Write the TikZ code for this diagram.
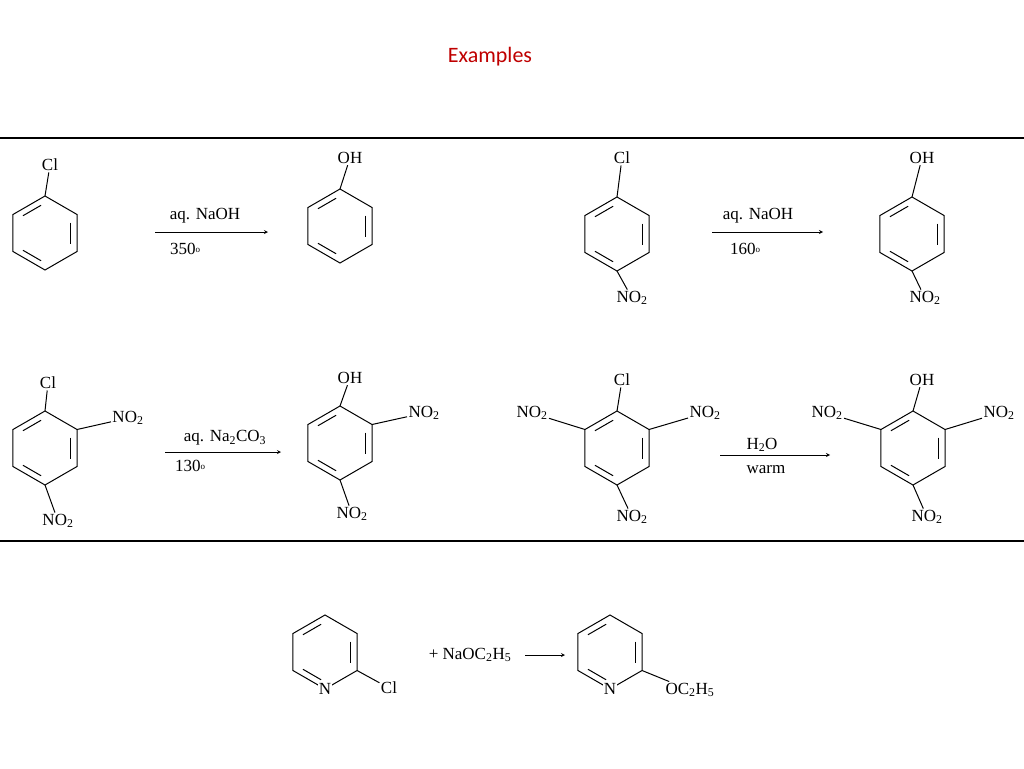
\documentclass[tikz,border=0pt]{standalone}
\usepackage{fontspec}
\setmainfont{Liberation Serif}
\newfontfamily\titlefont{Carlito}
\usetikzlibrary{calc}

\def\ux{1pt}
\def\uy{-1pt}

% ring of six with three inner bonds
\newcommand\ring[3]{%
  \coordinate (#1) at (#2,#3);
  \foreach \i in {0,...,5}{
    \coordinate (#1-\i) at ($(#1)+(-90+60*\i:37)$);
    \coordinate (#1i\i) at ($(#1)+(-90+60*\i:30)$);
  }
  \draw (#1-0) -- (#1-1) -- (#1-2) -- (#1-3) -- (#1-4) -- (#1-5) -- cycle;
  \foreach \a/\b in {1/2,3/4,5/0}
    \draw ($(#1i\a)!0.15!(#1i\b)$) -- ($(#1i\b)!0.15!(#1i\a)$);
}
\newcommand\degr[1]{#1\raisebox{2pt}{\small o}}

\begin{document}
\begin{tikzpicture}[x=\ux,y=\uy,line width=1pt,
    lbl/.style={inner sep=1pt,font=\fontsize{17}{20}\selectfont},
    rule/.style={line width=2.5pt},
    rxn/.style={-stealth,line width=0.8pt}]
  \useasboundingbox (0,0) rectangle (1024,768);
  \node[text=red!75!black,font=\titlefont\fontsize{22}{26}\selectfont] (title) at (490,57) {Examples};
  \draw[rule] (0,138) -- (1024,138);
  \draw[rule] (0,541) -- (1024,541);

  % row one
  \ring{ra}{45}{233}
  \node[lbl] (cla) at (50,165) {Cl};
  \draw (ra-0) -- (cla);
  \coordinate (aa) at (155,232); \coordinate (ab) at (268,232);
  \draw[rxn] (aa) -- (ab);
  \node[lbl] (ta) at (205,216) {aq. NaOH};
  \node[lbl] (tb) at (185,249) {\degr{350}};
  \ring{rb}{340}{226}
  \node[lbl] (ohb) at (350,158) {OH};
  \draw (rb-0) -- (ohb);

  \ring{rc}{617}{234}
  \node[lbl] (clc) at (622,158) {Cl};
  \node[lbl] (nc) at (632,298) {NO\textsubscript{2}};
  \draw (rc-0) -- (clc); \draw (rc-3) -- (nc);
  \coordinate (ba) at (712,232); \coordinate (bb) at (823,232);
  \draw[rxn] (ba) -- (bb);
  \node[lbl] (tc) at (758,216) {aq. NaOH};
  \node[lbl] (td) at (745,249) {\degr{160}};
  \ring{rd}{912}{234}
  \node[lbl] (ohd) at (922,158) {OH};
  \node[lbl] (nd) at (925,298) {NO\textsubscript{2}};
  \draw (rd-0) -- (ohd); \draw (rd-3) -- (nd);

  % row two
  \ring{re}{45}{448}
  \node[lbl] (cle) at (48,383) {Cl};
  \node[lbl] (ne) at (128,418) {NO\textsubscript{2}};
  \node[lbl] (nf) at (58,521) {NO\textsubscript{2}};
  \draw (re-0) -- (cle); \draw (re-1) -- (ne); \draw (re-3) -- (nf);
  \coordinate (ca) at (165,452); \coordinate (cb) at (281,452);
  \draw[rxn] (ca) -- (cb);
  \node[lbl] (te) at (225,438) {aq. Na\textsubscript{2}CO\textsubscript{3}};
  \node[lbl] (tf) at (190,466) {\degr{130}};
  \ring{rf}{340}{443}
  \node[lbl] (ohf) at (350,378) {OH};
  \node[lbl] (ng) at (424,413) {NO\textsubscript{2}};
  \node[lbl] (nh) at (352,514) {NO\textsubscript{2}};
  \draw (rf-0) -- (ohf); \draw (rf-1) -- (ng); \draw (rf-3) -- (nh);

  \ring{rg}{617}{448}
  \node[lbl] (clg) at (622,380) {Cl};
  \node[lbl] (ni) at (532,413) {NO\textsubscript{2}};
  \node[lbl] (nj) at (705,413) {NO\textsubscript{2}};
  \node[lbl] (nk) at (632,517) {NO\textsubscript{2}};
  \draw (rg-0) -- (clg); \draw (rg-5) -- (ni); \draw (rg-1) -- (nj); \draw (rg-3) -- (nk);
  \coordinate (da) at (720,455); \coordinate (db) at (830,455);
  \draw[rxn] (da) -- (db);
  \node[lbl] (tg) at (762,445) {H\textsubscript{2}O};
  \node[lbl] (th) at (766,470) {warm};
  \ring{rh}{913}{448}
  \node[lbl] (ohh) at (922,380) {OH};
  \node[lbl] (nl) at (827,413) {NO\textsubscript{2}};
  \node[lbl] (nm) at (999,413) {NO\textsubscript{2}};
  \node[lbl] (nn) at (927,517) {NO\textsubscript{2}};
  \draw (rh-0) -- (ohh); \draw (rh-5) -- (nl); \draw (rh-1) -- (nm); \draw (rh-3) -- (nn);

  % pyridines
  \ring{ri}{325}{652}
  \node[lbl,fill=white] (pn) at (ri-3) {N};
  \node[lbl] (cli) at (389,688) {Cl};
  \draw (ri-2) -- (cli);
  \node[lbl] (plus) at (470,655) {+ NaOC\textsubscript{2}H\textsubscript{5}};
  \coordinate (ea) at (525,655); \coordinate (eb) at (565,655);
  \draw[rxn] (ea) -- (eb);
  \ring{rj}{610}{652}
  \node[lbl,fill=white] (pm) at (rj-3) {N};
  \node[lbl] (oet) at (690,690) {OC\textsubscript{2}H\textsubscript{5}};
  \draw (rj-2) -- (oet);
\end{tikzpicture}
\end{document}
